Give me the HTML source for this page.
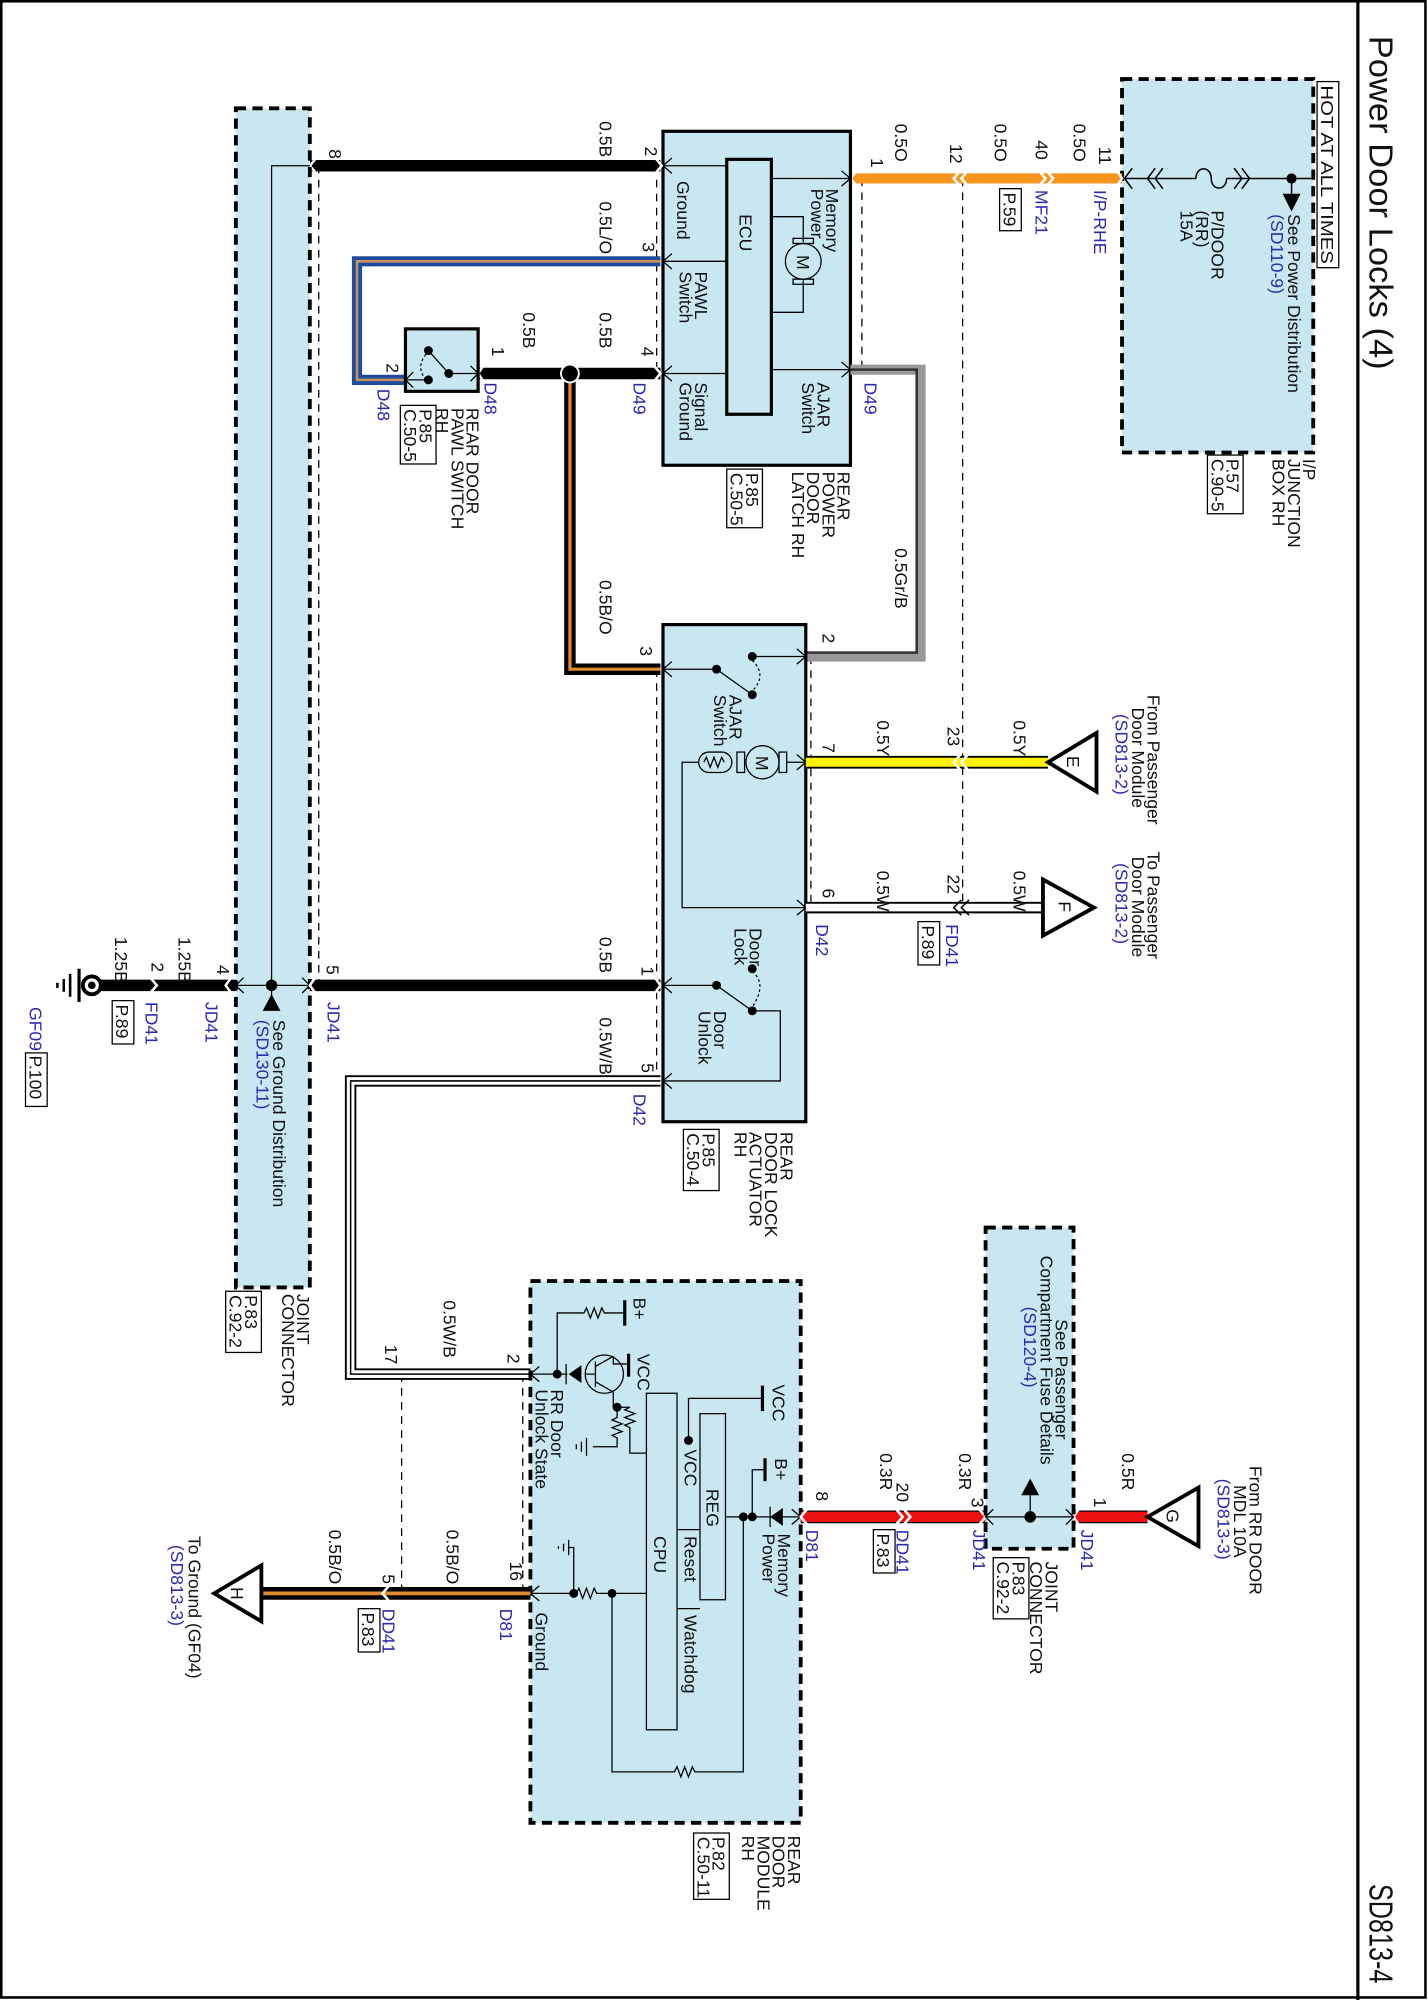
<!DOCTYPE html>
<html><head><meta charset="utf-8"><style>
html,body{margin:0;padding:0;background:#fff;}
svg{display:block;}
text{font-family:"Liberation Sans",sans-serif;font-size:13.8px;fill:#111;}
.b{fill:#2b2bb0;}
.big{font-size:26px;}
.fill{fill:#c9e7f0;}
</style></head><body>
<svg width="1428" height="2000" viewBox="0 0 1120 1569" preserveAspectRatio="none" xmlns="http://www.w3.org/2000/svg">
<rect x="0" y="0" width="1120" height="1569" fill="#fff"/>
<rect x="1" y="1" width="1117" height="1566" fill="none" stroke="#000" stroke-width="2"/>
<line x1="1065" y1="0" x2="1065" y2="1569" stroke="#000" stroke-width="2.5"/>
<text class="big" transform="translate(1074 28) rotate(90)" textLength="262" lengthAdjust="spacingAndGlyphs">Power Door Locks (4)</text>
<text class="big" transform="translate(1074 1478) rotate(90)" textLength="78" lengthAdjust="spacingAndGlyphs">SD813-4</text>

<!-- dashed reference lines -->
<g stroke="#000" stroke-width="1" stroke-dasharray="6,5" fill="none">
<line x1="250" y1="130" x2="250" y2="773"/>
<line x1="515" y1="130" x2="515" y2="293"/>
<line x1="676" y1="140" x2="676" y2="290"/>
<line x1="755" y1="140" x2="755" y2="712"/>
<line x1="636" y1="515" x2="636" y2="712"/>
<line x1="515" y1="525" x2="515" y2="848"/>
<line x1="315" y1="1078" x2="315" y2="1250"/>
<line x1="410" y1="1078" x2="410" y2="1250"/>
</g>

<!-- I/P junction box -->
<rect class="fill" x="880" y="62" width="150" height="293" stroke="#000" stroke-width="3" stroke-dasharray="8,5"/>
<rect x="1033" y="64" width="17" height="146" fill="#fff" stroke="#000" stroke-width="1"/>
<text transform="translate(1036 67) rotate(90)" textLength="140" lengthAdjust="spacingAndGlyphs">HOT AT ALL TIMES</text>
<g stroke="#000" stroke-width="1.2" fill="none">
<line x1="882" y1="140" x2="938" y2="140"/>
<line x1="962" y1="140" x2="1030" y2="140"/>
<path d="M888 132 L882 140 L888 148 M906 132 L900 140 L906 148 M912 132 L906 140 L912 148"/>
<path d="M938 140 C938 130 950 130 950 140 C950 150 962 150 962 140"/>
<path d="M968 132 L974 140 L968 148 M974 132 L980 140 L974 148"/>
<line x1="1013" y1="140" x2="1013" y2="152"/>
</g>
<circle cx="1013" cy="140" r="4" fill="#000"/>
<polygon points="1006,152 1020,152 1013,166" fill="#000"/>
<text transform="translate(950 165) rotate(90)">P/DOOR</text>
<text transform="translate(938 165) rotate(90)">(RR)</text>
<text transform="translate(926 165) rotate(90)">15A</text>
<text transform="translate(1010 168) rotate(90)">See Power Distribution</text>
<text class="b" transform="translate(997 168) rotate(90)">(SD110-9)</text>
<text transform="translate(1022 360) rotate(90)">I/P</text>
<text transform="translate(1010 360) rotate(90)">JUNCTION</text>
<text transform="translate(998 360) rotate(90)">BOX RH</text>
<rect x="947" y="357" width="28" height="46" fill="none" stroke="#000"/>
<text transform="translate(962 360) rotate(90)">P.57</text>
<text transform="translate(950 360) rotate(90)">C.90-5</text>

<!-- orange wire -->
<line x1="667" y1="140" x2="880" y2="140" stroke="#f7941d" stroke-width="8"/>
<g stroke="#fff" stroke-width="2" fill="none">
<path d="M754 133 L748 140 L754 147 M760 133 L754 140 L760 147"/>
<path d="M814 133 L820 140 L814 147 M820 133 L826 140 L820 147"/>
<path d="M672 134 L667 140 L672 146"/>
<path d="M876 134 L880 140 L876 146"/>
</g>
<text transform="translate(683 124) rotate(90)">1</text>
<text transform="translate(702 97) rotate(90)">0.5O</text>
<text transform="translate(745 113) rotate(90)">12</text>
<text transform="translate(780 97) rotate(90)">0.5O</text>
<text transform="translate(812 110) rotate(90)">40</text>
<text transform="translate(842 97) rotate(90)">0.5O</text>
<text transform="translate(862 115) rotate(90)">11</text>
<text class="b" transform="translate(812 149) rotate(90)">MF21</text>
<rect x="784" y="148" width="17" height="33" fill="none" stroke="#000"/>
<text transform="translate(787 151) rotate(90)">P.59</text>
<text class="b" transform="translate(858 149) rotate(90)">I/P-RHE</text>

<!-- latch box -->
<rect class="fill" x="520" y="103" width="147" height="262" stroke="#000" stroke-width="2.5"/>
<rect class="fill" x="570" y="125" width="35" height="200" stroke="#000" stroke-width="2.5"/>
<text transform="translate(580 168) rotate(90)">ECU</text>
<g stroke="#000" stroke-width="1" fill="none">
<line x1="520" y1="130" x2="570" y2="130"/>
<line x1="520" y1="205" x2="570" y2="205"/>
<line x1="520" y1="293" x2="570" y2="293"/>
<line x1="605" y1="140" x2="667" y2="140"/>
<line x1="605" y1="290" x2="667" y2="290"/>
<path d="M605 170 H630 V190 M605 245 H630 V220"/>
<circle cx="630" cy="205" r="14"/>
<rect x="622" y="187" width="16" height="4"/>
<rect x="622" y="219" width="16" height="4"/>
<path d="M527 124 L520 130 L527 136 M527 199 L520 205 L527 211 M527 287 L520 293 L527 299 M660 134 L667 140 L660 146 M660 284 L667 290 L660 296"/>
</g>
<text transform="translate(625 200) rotate(90)">M</text>
<text transform="translate(648 148) rotate(90)">Memory</text>
<text transform="translate(636 148) rotate(90)">Power</text>
<text transform="translate(531 142) rotate(90)">Ground</text>
<text transform="translate(545 213) rotate(90)">PAWL</text>
<text transform="translate(533 213) rotate(90)">Switch</text>
<text transform="translate(545 300) rotate(90)">Signal</text>
<text transform="translate(533 300) rotate(90)">Ground</text>
<text transform="translate(641 300) rotate(90)">AJAR</text>
<text transform="translate(629 300) rotate(90)">Switch</text>
<text transform="translate(657 370) rotate(90)">REAR</text>
<text transform="translate(645 370) rotate(90)">POWER</text>
<text transform="translate(633 370) rotate(90)">DOOR</text>
<text transform="translate(621 370) rotate(90)">LATCH RH</text>
<rect x="570" y="368" width="28" height="46" fill="none" stroke="#000"/>
<text transform="translate(585 371) rotate(90)">P.85</text>
<text transform="translate(573 371) rotate(90)">C.50-5</text>
<text class="b" transform="translate(497 300) rotate(90)">D49</text>
<text class="b" transform="translate(678 300) rotate(90)">D49</text>

<!-- wires top-left -->
<line x1="243" y1="130" x2="518" y2="130" stroke="#000" stroke-width="9"/>
<path d="M518 205 H280 V298 H318" fill="none" stroke="#1e4b9c" stroke-width="8"/>
<path d="M518 205 H280 V298 H318" fill="none" stroke="#c8905a" stroke-width="2"/>
<line x1="375" y1="293" x2="518" y2="293" stroke="#000" stroke-width="9"/>
<path d="M447 293 V525 H518" fill="none" stroke="#000" stroke-width="9"/>
<path d="M447 293 V525 H518" fill="none" stroke="#e08a2e" stroke-width="2.5"/>
<circle cx="447" cy="293" r="7" fill="#000" stroke="#fff" stroke-width="1.5"/>
<path d="M667 290 H722 V515 H632" fill="none" stroke="#999" stroke-width="8"/>
<path d="M667 290 H719 V512 H632" fill="none" stroke="#333" stroke-width="2"/>
<g stroke="#fff" stroke-width="2" fill="none">
<path d="M248 124 L243 130 L248 136"/>
<path d="M514 124 L519 130 L514 136"/>
<path d="M513 287 L518 293 L513 299"/>
<path d="M379 287 L375 293 L379 299"/>
</g>
<text transform="translate(258 117) rotate(90)">8</text>
<text transform="translate(470 95) rotate(90)">0.5B</text>
<text transform="translate(506 115) rotate(90)">2</text>
<text transform="translate(470 158) rotate(90)">0.5L/O</text>
<text transform="translate(504 190) rotate(90)">3</text>
<text transform="translate(470 245) rotate(90)">0.5B</text>
<text transform="translate(503 272) rotate(90)">4</text>
<text transform="translate(410 245) rotate(90)">0.5B</text>
<text transform="translate(386 272) rotate(90)">1</text>
<text transform="translate(303 285) rotate(90)">2</text>
<text class="b" transform="translate(380 300) rotate(90)">D48</text>
<text class="b" transform="translate(296 305) rotate(90)">D48</text>
<text transform="translate(702 430) rotate(90)">0.5Gr/B</text>
<text transform="translate(645 497) rotate(90)">2</text>
<text transform="translate(502 507) rotate(90)">3</text>
<text transform="translate(470 455) rotate(90)">0.5B/O</text>

<!-- pawl switch -->
<rect class="fill" x="318" y="258" width="57" height="49" stroke="#000" stroke-width="2.5"/>
<g stroke="#000" stroke-width="1" fill="none">
<path d="M352 293 H375 M369 287 L375 293 L369 299"/>
<path d="M352 293 L336 275"/>
<path d="M336 298 H318 M324 292 L318 298 L324 304"/>
<path d="M334 278 Q326 288 334 298" stroke-dasharray="2,2"/>
</g>
<circle cx="352" cy="293" r="3.5" fill="#000"/><circle cx="336" cy="275" r="3.5" fill="#000"/><circle cx="336" cy="298" r="3.5" fill="#000"/>
<text transform="translate(366 320) rotate(90)">REAR DOOR</text>
<text transform="translate(354 320) rotate(90)">PAWL SWITCH</text>
<text transform="translate(342 320) rotate(90)">RH</text>
<rect x="314" y="318" width="28" height="46" fill="none" stroke="#000"/>
<text transform="translate(329 321) rotate(90)">P.85</text>
<text transform="translate(317 321) rotate(90)">C.50-5</text>

<!-- left joint connector -->
<rect class="fill" x="185" y="85" width="58" height="925" stroke="#000" stroke-width="3" stroke-dasharray="8,5"/>
<g stroke="#000" stroke-width="1" fill="none">
<path d="M243 130 H213 V773"/>
<path d="M185 773 H243 M237 767 L243 773 L237 779 M191 767 L185 773 L191 779"/>
<line x1="213" y1="773" x2="213" y2="782"/>
</g>
<circle cx="213" cy="773" r="4.5" fill="#000"/>
<polygon points="213,780 206,793 220,793" fill="#000"/>
<text transform="translate(214 800) rotate(90)">See Ground Distribution</text>
<text class="b" transform="translate(201 800) rotate(90)">(SD130-11)</text>
<text class="b" transform="translate(257 786) rotate(90)">JD41</text>
<text class="b" transform="translate(161 786) rotate(90)">JD41</text>
<text transform="translate(256 757) rotate(90)">5</text>
<text transform="translate(170 757) rotate(90)">4</text>
<text transform="translate(233 1015) rotate(90)">JOINT</text>
<text transform="translate(221 1015) rotate(90)">CONNECTOR</text>
<rect x="177" y="1013" width="28" height="48" fill="none" stroke="#000"/>
<text transform="translate(192 1016) rotate(90)">P.83</text>
<text transform="translate(180 1016) rotate(90)">C.92-2</text>

<!-- ground wire -->
<line x1="243" y1="773" x2="518" y2="773" stroke="#000" stroke-width="9"/>
<line x1="76" y1="773" x2="185" y2="773" stroke="#000" stroke-width="9"/>
<g stroke="#fff" stroke-width="2" fill="none">
<path d="M117 766 L123 773 L117 780"/>
<path d="M182 766 L177 773 L182 780"/>
<path d="M248 766 L243 773 L248 780"/>
<path d="M513 766 L518 773 L513 780"/>
</g>
<circle cx="72" cy="773" r="7" fill="#fff" stroke="#000" stroke-width="3"/>
<circle cx="72" cy="773" r="3" fill="#000"/>
<line x1="62" y1="760" x2="62" y2="786" stroke="#000" stroke-width="2.5"/>
<g stroke="#000" stroke-width="2"><line x1="55" y1="764" x2="55" y2="782"/><line x1="50" y1="768" x2="50" y2="778"/><line x1="45" y1="771" x2="45" y2="775"/></g>
<text transform="translate(140 735) rotate(90)">1.25B</text>
<text transform="translate(119 755) rotate(90)">2</text>
<text transform="translate(90 735) rotate(90)">1.25B</text>
<text class="b" transform="translate(114 786) rotate(90)">FD41</text>
<rect x="88" y="785" width="17" height="34" fill="none" stroke="#000"/>
<text transform="translate(91 788) rotate(90)">P.89</text>
<text class="b" transform="translate(23 790) rotate(90)">GF09</text>
<rect x="20" y="826" width="17" height="42" fill="none" stroke="#000"/>
<text transform="translate(23 828) rotate(90)">P.100</text>

<!-- actuator -->
<rect class="fill" x="520" y="490" width="112" height="390" stroke="#000" stroke-width="2.5"/>
<g stroke="#000" stroke-width="1" fill="none">
<path d="M520 525 H562 L590 545 M527 519 L520 525 L527 531"/>
<path d="M590 515 H632 M625 509 L632 515 L625 521"/>
<path d="M590 518 Q602 530 590 542" stroke-dasharray="2,2"/>
<rect x="548" y="590" width="26" height="16" rx="8"/>
<path d="M552 598 l2 -4 l3 8 l3 -8 l3 8 l3 -8 l2 4"/>
<rect x="578" y="590" width="6" height="16"/>
<circle cx="598" cy="598" r="13"/>
<rect x="611" y="590" width="6" height="16"/>
<path d="M617 598 H632 M625 592 L632 598 L625 604"/>
<path d="M548 598 H535 V712 H632 M625 706 L632 712 L625 718"/>
<path d="M520 773 H562 L590 793 M527 767 L520 773 L527 779"/>
<path d="M590 762 Q602 772 590 790" stroke-dasharray="2,2"/>
<path d="M590 793 H612 V848 H520 M527 842 L520 848 L527 854"/>
</g>
<circle cx="562" cy="525" r="3.5" fill="#000"/><circle cx="590" cy="545" r="3.5" fill="#000"/><circle cx="590" cy="515" r="3.5" fill="#000"/>
<circle cx="562" cy="773" r="3.5" fill="#000"/><circle cx="590" cy="793" r="3.5" fill="#000"/><circle cx="590" cy="760" r="3.5" fill="#000"/>
<text transform="translate(593 593) rotate(90)">M</text>
<text transform="translate(572 545) rotate(90)">AJAR</text>
<text transform="translate(560 545) rotate(90)">Switch</text>
<text transform="translate(588 728) rotate(90)">Door</text>
<text transform="translate(576 728) rotate(90)">Lock</text>
<text transform="translate(560 793) rotate(90)">Door</text>
<text transform="translate(548 793) rotate(90)">Unlock</text>
<text transform="translate(612 888) rotate(90)">REAR</text>
<text transform="translate(600 888) rotate(90)">DOOR LOCK</text>
<text transform="translate(588 888) rotate(90)">ACTUATOR</text>
<text transform="translate(576 888) rotate(90)">RH</text>
<rect x="536" y="886" width="28" height="48" fill="none" stroke="#000"/>
<text transform="translate(551 889) rotate(90)">P.85</text>
<text transform="translate(539 889) rotate(90)">C.50-4</text>
<text transform="translate(503 758) rotate(90)">1</text>
<text transform="translate(470 735) rotate(90)">0.5B</text>
<text transform="translate(503 834) rotate(90)">5</text>
<text transform="translate(470 798) rotate(90)">0.5W/B</text>
<text class="b" transform="translate(497 858) rotate(90)">D42</text>

<!-- yellow / white -->
<line x1="632" y1="598" x2="822" y2="598" stroke="#000" stroke-width="10"/>
<line x1="632" y1="598" x2="822" y2="598" stroke="#fff200" stroke-width="7"/>
<line x1="632" y1="712" x2="818" y2="712" stroke="#000" stroke-width="9"/>
<line x1="632" y1="712" x2="818" y2="712" stroke="#fff" stroke-width="6"/>
<g stroke="#fff" stroke-width="2" fill="none">
<path d="M754 591 L748 598 L754 605 M760 591 L754 598 L760 605"/>
</g>
<g stroke="#000" stroke-width="1.2" fill="none">
<path d="M754 706 L748 712 L754 718 M760 706 L754 712 L760 718"/>
</g>
<polygon points="822,598 860,575 860,621" fill="#fff" stroke="#000" stroke-width="3"/>
<polygon points="818,690 818,734 858,712" fill="#fff" stroke="#000" stroke-width="3"/>
<text transform="translate(837 593) rotate(90)">E</text>
<text transform="translate(830 707) rotate(90)">F</text>
<text transform="translate(688 565) rotate(90)">0.5Y</text>
<text transform="translate(645 583) rotate(90)">7</text>
<text transform="translate(743 570) rotate(90)">23</text>
<text transform="translate(795 565) rotate(90)">0.5Y</text>
<text transform="translate(688 683) rotate(90)">0.5W</text>
<text transform="translate(645 697) rotate(90)">6</text>
<text transform="translate(743 686) rotate(90)">22</text>
<text transform="translate(795 683) rotate(90)">0.5W</text>
<text class="b" transform="translate(640 725) rotate(90)">D42</text>
<text class="b" transform="translate(742 725) rotate(90)">FD41</text>
<rect x="720" y="723" width="17" height="34" fill="none" stroke="#000"/>
<text transform="translate(723 726) rotate(90)">P.89</text>
<text transform="translate(900 545) rotate(90)">From Passenger</text>
<text transform="translate(888 555) rotate(90)">Door Module</text>
<text class="b" transform="translate(875 560) rotate(90)">(SD813-2)</text>
<text transform="translate(900 668) rotate(90)">To Passenger</text>
<text transform="translate(888 672) rotate(90)">Door Module</text>
<text class="b" transform="translate(875 677) rotate(90)">(SD813-2)</text>

<!-- W/B wire -->
<path d="M518 848 H275 V1078 H416" fill="none" stroke="#000" stroke-width="9"/>
<path d="M518 848 H275 V1078 H416" fill="none" stroke="#fff" stroke-width="6"/>
<path d="M518 848 H275 V1078 H416" fill="none" stroke="#000" stroke-width="1.2"/>
<text transform="translate(302 1055) rotate(90)">17</text>
<text transform="translate(348 1020) rotate(90)">0.5W/B</text>
<text transform="translate(398 1062) rotate(90)">2</text>

<!-- module -->
<rect class="fill" x="416" y="1005" width="212" height="425" stroke="#000" stroke-width="3" stroke-dasharray="8,5"/>
<g stroke="#000" stroke-width="1" fill="none">
<path d="M416 1078 H445 M423 1072 L416 1078 L423 1084"/>
<path d="M437 1078 V1030 H458 l2 -4 l3 8 l3 -8 l3 8 l3 -8 l2 4 H490"/>
<line x1="490" y1="1020" x2="490" y2="1040" stroke-width="2.5"/>
<line x1="444" y1="1070" x2="444" y2="1086"/>
<circle cx="474" cy="1078" r="15"/>
<path d="M459 1078 H467 M467 1068 V1088 M467 1072 L481 1064 M467 1084 L481 1092 V1104 M481 1064 V1070 L493 1070"/>
<line x1="493" y1="1062" x2="493" y2="1080" stroke-width="2.5"/>
<path d="M484 1104 H494 l-4 2 l8 3 l-8 3 l8 3 l-8 3 l4 2 V1140 H507"/>
<path d="M484 1104 V1112 l-4 2 l8 3 l-8 3 l8 3 l-8 3 l4 2 V1135 H465"/>
<path d="M460 1128 V1142 M456 1131 V1139 M452 1133 V1137"/>
<rect x="507" y="1093" width="24" height="264"/>
<rect x="549" y="1109" width="20" height="146"/>
<path d="M531 1200 H549 M531 1262 H549"/>
<path d="M540 1130 V1097 H598"/>
<line x1="598" y1="1087" x2="598" y2="1107" stroke-width="2.5"/>
<path d="M590 1190 V1153 H600"/>
<line x1="600" y1="1144" x2="600" y2="1162" stroke-width="2.5"/>
<path d="M569 1190 H628 M621 1184 L628 1190 L621 1196"/>
<line x1="604" y1="1182" x2="604" y2="1198"/>
<path d="M583 1190 V1390 H545 l-2 -4 l-3 8 l-3 -8 l-3 8 l-3 -8 l-2 4 H480 V1250"/>
<path d="M416 1250 H452 l2 -4 l3 8 l3 -8 l3 8 l3 -8 l2 4 H507 M423 1244 L416 1250 L423 1256"/>
<path d="M450 1250 V1214 H446 M446 1208 V1220 M442 1211 V1217 M438 1213 V1215"/>
</g>
<polygon points="446,1078 456,1071 456,1085" fill="#000"/>
<polygon points="604,1190 614,1183 614,1197" fill="#000"/>
<circle cx="437" cy="1078" r="3.5" fill="#000"/>
<circle cx="484" cy="1104" r="3.5" fill="#000"/>
<circle cx="540" cy="1130" r="3.5" fill="#000"/>
<circle cx="583" cy="1190" r="3.5" fill="#000"/>
<circle cx="590" cy="1190" r="3.5" fill="#000"/>
<circle cx="450" cy="1250" r="3.5" fill="#000"/>
<circle cx="480" cy="1250" r="3.5" fill="#000"/>
<text transform="translate(497 1018) rotate(90)">B+</text>
<text transform="translate(500 1062) rotate(90)">VCC</text>
<text transform="translate(606 1086) rotate(90)">VCC</text>
<text transform="translate(608 1144) rotate(90)">B+</text>
<text transform="translate(537 1137) rotate(90)">VCC</text>
<text transform="translate(537 1205) rotate(90)">Reset</text>
<text transform="translate(537 1267) rotate(90)">Watchdog</text>
<text transform="translate(513 1205) rotate(90)">CPU</text>
<text transform="translate(554 1168) rotate(90)">REG</text>
<text transform="translate(610 1203) rotate(90)">Memory</text>
<text transform="translate(598 1203) rotate(90)">Power</text>
<text transform="translate(432 1090) rotate(90)">RR Door</text>
<text transform="translate(420 1090) rotate(90)">Unlock State</text>
<text transform="translate(420 1265) rotate(90)">Ground</text>
<text transform="translate(618 1440) rotate(90)">REAR</text>
<text transform="translate(606 1440) rotate(90)">DOOR</text>
<text transform="translate(594 1440) rotate(90)">MODULE</text>
<text transform="translate(582 1440) rotate(90)">RH</text>
<rect x="544" y="1438" width="28" height="52" fill="none" stroke="#000"/>
<text transform="translate(559 1441) rotate(90)">P.82</text>
<text transform="translate(547 1441) rotate(90)">C.50-11</text>

<!-- brown wire -->
<line x1="205" y1="1250" x2="416" y2="1250" stroke="#000" stroke-width="10"/>
<line x1="205" y1="1250" x2="416" y2="1250" stroke="#e08a2e" stroke-width="3"/>
<g stroke="#fff" stroke-width="2" fill="none"><path d="M306 1243 L300 1250 L306 1257"/></g>
<polygon points="168,1250 205,1228 205,1272" fill="#fff" stroke="#000" stroke-width="3"/>
<text transform="translate(181 1245) rotate(90)">H</text>
<text transform="translate(400 1225) rotate(90)">16</text>
<text transform="translate(350 1200) rotate(90)">0.5B/O</text>
<text transform="translate(300 1235) rotate(90)">5</text>
<text transform="translate(258 1200) rotate(90)">0.5B/O</text>
<text class="b" transform="translate(392 1262) rotate(90)">D81</text>
<text class="b" transform="translate(300 1262) rotate(90)">DD41</text>
<rect x="281" y="1262" width="17" height="34" fill="none" stroke="#000"/>
<text transform="translate(284 1265) rotate(90)">P.83</text>
<text transform="translate(148 1205) rotate(90)">To Ground (GF04)</text>
<text class="b" transform="translate(134 1212) rotate(90)">(SD813-3)</text>

<!-- red wire -->
<line x1="628" y1="1190" x2="900" y2="1190" stroke="#000" stroke-width="10"/>
<line x1="628" y1="1190" x2="900" y2="1190" stroke="#ee1111" stroke-width="8"/>
<g stroke="#fff" stroke-width="2" fill="none">
<path d="M702 1183 L708 1190 L702 1197 M708 1183 L714 1190 L708 1197"/>
<path d="M633 1184 L628 1190 L633 1196"/>
<path d="M768 1184 L773 1190 L768 1196"/>
<path d="M846 1184 L842 1190 L846 1196"/>
</g>
<rect class="fill" x="773" y="963" width="69" height="252" stroke="#000" stroke-width="3" stroke-dasharray="8,5"/>
<g stroke="#000" stroke-width="1" fill="none">
<path d="M773 1190 H842 M779 1184 L773 1190 L779 1196 M836 1184 L842 1190 L836 1196"/>
<line x1="808" y1="1190" x2="808" y2="1172"/>
</g>
<circle cx="808" cy="1190" r="4.5" fill="#000"/>
<polygon points="808,1160 801,1173 815,1173" fill="#000"/>
<text transform="translate(828 1035) rotate(90)">See Passenger</text>
<text transform="translate(816 985) rotate(90)">Compartment Fuse Details</text>
<text class="b" transform="translate(803 1025) rotate(90)">(SD120-4)</text>
<polygon points="900,1190 940,1167 940,1213" fill="#fff" stroke="#000" stroke-width="3"/>
<text transform="translate(915 1184) rotate(90)">G</text>
<text transform="translate(640 1170) rotate(90)">8</text>
<text transform="translate(690 1140) rotate(90)">0.3R</text>
<text transform="translate(703 1163) rotate(90)">20</text>
<text transform="translate(752 1140) rotate(90)">0.3R</text>
<text transform="translate(762 1175) rotate(90)">3</text>
<text transform="translate(880 1140) rotate(90)">0.5R</text>
<text transform="translate(858 1175) rotate(90)">1</text>
<text class="b" transform="translate(632 1200) rotate(90)">D81</text>
<text class="b" transform="translate(703 1200) rotate(90)">DD41</text>
<rect x="685" y="1200" width="17" height="34" fill="none" stroke="#000"/>
<text transform="translate(688 1203) rotate(90)">P.83</text>
<text class="b" transform="translate(763 1200) rotate(90)">JD41</text>
<text class="b" transform="translate(848 1200) rotate(90)">JD41</text>
<text transform="translate(820 1225) rotate(90)">JOINT</text>
<text transform="translate(808 1225) rotate(90)">CONNECTOR</text>
<rect x="779" y="1222" width="28" height="48" fill="none" stroke="#000"/>
<text transform="translate(794 1225) rotate(90)">P.83</text>
<text transform="translate(782 1225) rotate(90)">C.92-2</text>
<text transform="translate(980 1150) rotate(90)">From RR DOOR</text>
<text transform="translate(968 1165) rotate(90)">MDL 10A</text>
<text class="b" transform="translate(955 1160) rotate(90)">(SD813-3)</text>
</svg>
</body></html>
